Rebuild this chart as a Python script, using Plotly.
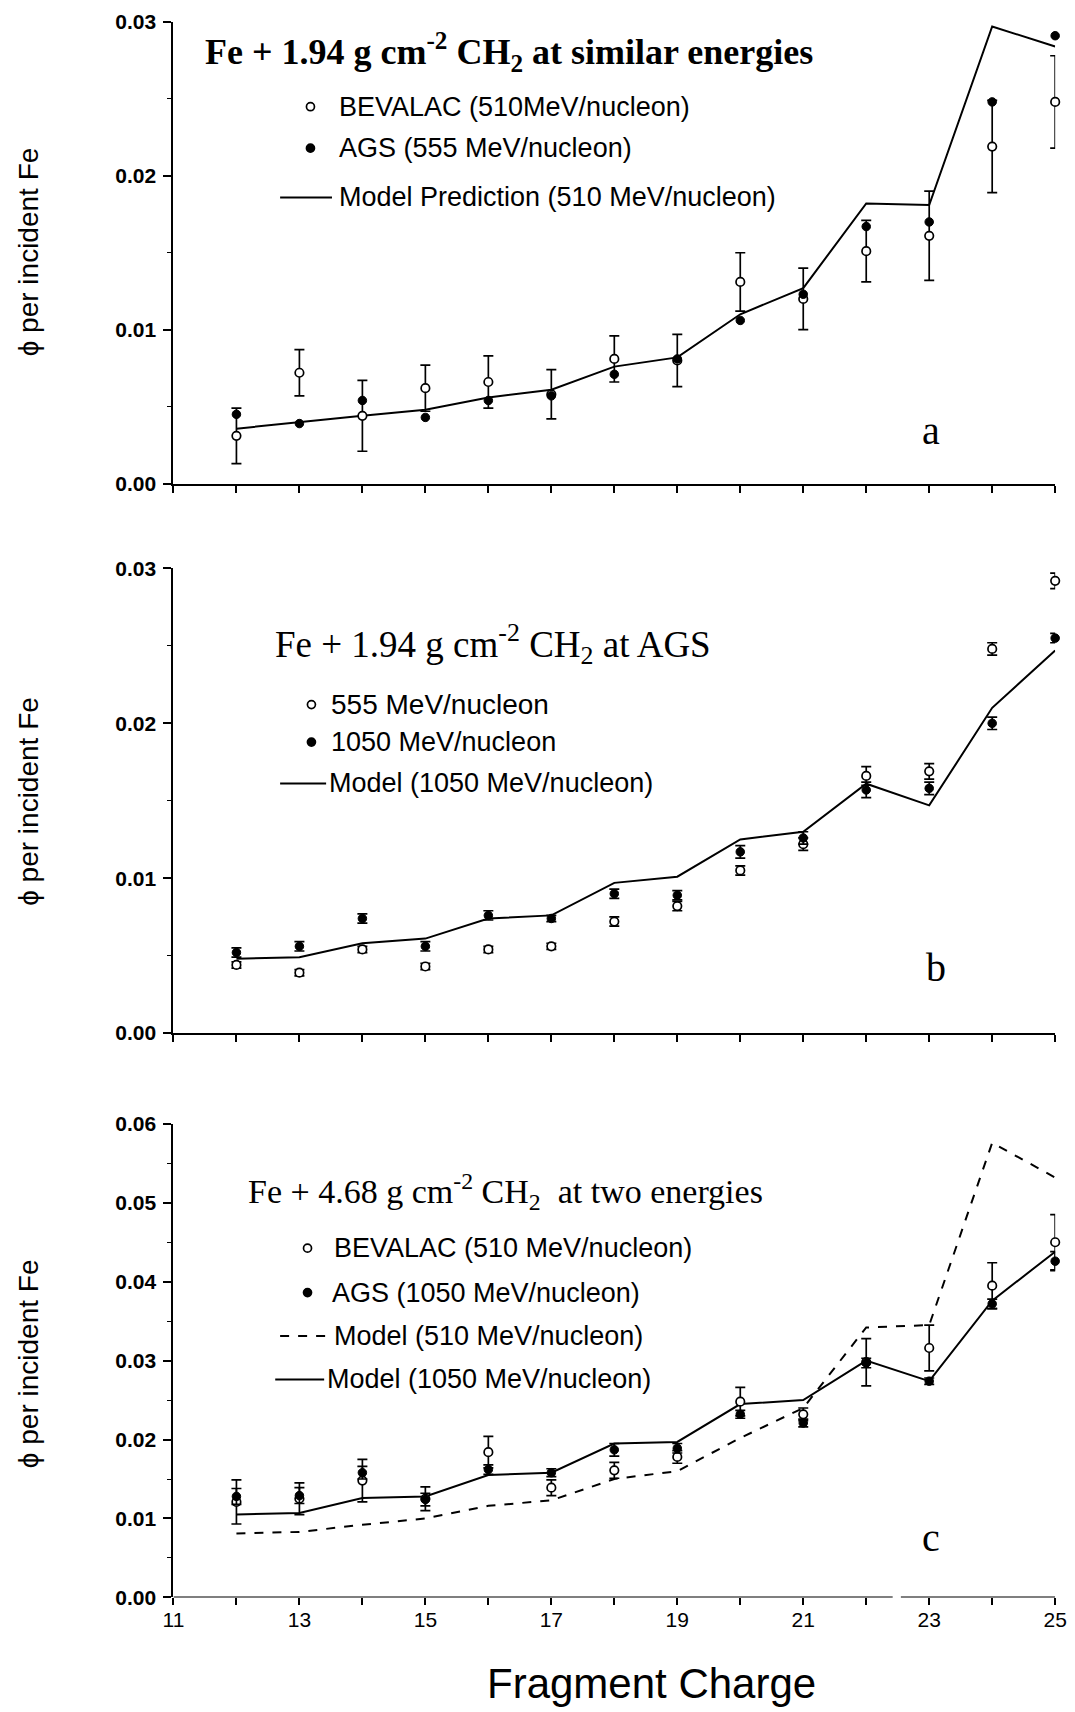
import plotly.graph_objects as go

# ---------------- data ----------------
charge = [12, 13, 14, 15, 16, 17, 18, 19, 20, 21, 22, 23, 24, 25]

# panel a : Fe + 1.94 g cm-2 CH2 at similar energies
a_bevalac = [0.0031, 0.0072, 0.0044, 0.0062, 0.0066, 0.0058, 0.0081, 0.0080, 0.0131, 0.0120, 0.0151, 0.0161, 0.0219, 0.0248]
a_bevalac_err = [0.0018, 0.0015, 0.0023, 0.0015, 0.0017, 0.0016, 0.0015, 0.0017, 0.0019, 0.0020, 0.0020, 0.0029, 0.0030, 0.0030]
a_ags = [0.0045, 0.0039, 0.0054, 0.0043, 0.0054, 0.0057, 0.0071, 0.0081, 0.0106, 0.0123, 0.0167, 0.0170, 0.0248, 0.0291]
a_model = [0.00357, 0.0040, 0.0044, 0.0048, 0.0056, 0.0061, 0.0076, 0.0082, 0.0110, 0.0127, 0.0182, 0.0181, 0.0297, 0.0284]

# panel b : Fe + 1.94 g cm-2 CH2 at AGS
b_555 = [0.0044, 0.0039, 0.0054, 0.0043, 0.0054, 0.0056, 0.0072, 0.0082, 0.0105, 0.0122, 0.0166, 0.0169, 0.0248, 0.0292]
b_555_err = [0.0002, 0.0002, 0.0002, 0.0002, 0.0002, 0.0002, 0.0003, 0.0003, 0.0003, 0.0004, 0.0006, 0.0005, 0.0004, 0.0005]
b_1050 = [0.0052, 0.0056, 0.0074, 0.0056, 0.0076, 0.0074, 0.0090, 0.0089, 0.0117, 0.0126, 0.0157, 0.0158, 0.0200, 0.0255]
b_1050_err = [0.0003, 0.0003, 0.0003, 0.0003, 0.0003, 0.0002, 0.0003, 0.0003, 0.0004, 0.0004, 0.0005, 0.0004, 0.0004, 0.0003]
b_model = [0.0048, 0.0049, 0.0058, 0.0061, 0.0074, 0.0076, 0.0097, 0.0101, 0.0125, 0.0130, 0.0161, 0.0147, 0.0210, 0.0247]

# panel c : Fe + 4.68 g cm-2 CH2 at two energies
c_bevalac = [0.0121, 0.0125, 0.0148, 0.0125, 0.0184, 0.0139, 0.0161, 0.0178, 0.0248, 0.0232, 0.0298, 0.0316, 0.0395, 0.0450]
c_bevalac_err = [0.0028, 0.0020, 0.0027, 0.0015, 0.0020, 0.0010, 0.0010, 0.0008, 0.0018, 0.0008, 0.0030, 0.0029, 0.0029, 0.0035]
c_ags = [0.0128, 0.0129, 0.0158, 0.0124, 0.0162, 0.0158, 0.0187, 0.0189, 0.0232, 0.0221, 0.0297, 0.0274, 0.0372, 0.0426]
c_ags_err = [0.0010, 0.0010, 0.0008, 0.0008, 0.0006, 0.0005, 0.0008, 0.0006, 0.0005, 0.0005, 0.0006, 0.0004, 0.0006, 0.0012]
c_model_510 = [0.0081, 0.0083, 0.0092, 0.0100, 0.0116, 0.0123, 0.0150, 0.0160, 0.0202, 0.0240, 0.0342, 0.0345, 0.0576, 0.0532]
c_model_1050 = [0.0105, 0.0107, 0.0126, 0.0128, 0.0155, 0.0158, 0.0195, 0.0197, 0.0245, 0.0250, 0.0300, 0.0274, 0.0376, 0.0438]

x_major = [11, 13, 15, 17, 19, 21, 23, 25]
x_minor = [12, 14, 16, 18, 20, 22, 24]
ya_ticks = [0.0, 0.01, 0.02, 0.03]
yc_ticks = [0.0, 0.01, 0.02, 0.03, 0.04, 0.05, 0.06]
minor_a = [0.005, 0.015, 0.025]
minor_c = [0.005, 0.015, 0.025, 0.035, 0.045, 0.055]

# ---------------- layout helpers (pixel -> paper) ----------------
W, H = 1075, 1712


def px(x):
    return x / W


def py(y):
    return 1 - y / H


SANS = "Liberation Sans, Arial, sans-serif"
SERIF = "Liberation Serif, Times New Roman, serif"
LEG = 27

fig = go.Figure()


def open_pts(y, err, xa, ya):
    fig.add_trace(go.Scatter(
        x=charge, y=y, mode="markers", xaxis=xa, yaxis=ya, cliponaxis=False,
        marker=dict(symbol="circle", size=8.5, color="white", line=dict(color="black", width=1.7)),
        error_y=dict(type="data", array=err, color="black", thickness=1.7, width=5),
        showlegend=False))


def filled_pts(y, err, xa, ya):
    fig.add_trace(go.Scatter(
        x=charge, y=y, mode="markers", xaxis=xa, yaxis=ya, cliponaxis=False,
        marker=dict(symbol="circle", size=8.5, color="black", line=dict(color="black", width=1)),
        error_y=dict(type="data", array=err, color="black", thickness=1.7, width=5) if err else None,
        showlegend=False))


def model_line(y, xa, ya, dash="solid"):
    fig.add_trace(go.Scatter(
        x=charge, y=y, mode="lines", xaxis=xa, yaxis=ya, cliponaxis=False,
        line=dict(color="black", width=2, dash=dash), showlegend=False))


# panel a
model_line(a_model, "x", "y")
open_pts(a_bevalac, a_bevalac_err, "x", "y")
filled_pts(a_ags, None, "x", "y")
# panel b
model_line(b_model, "x2", "y2")
open_pts(b_555, b_555_err, "x2", "y2")
filled_pts(b_1050, b_1050_err, "x2", "y2")
# panel c
model_line(c_model_510, "x3", "y3", dash="dash")
model_line(c_model_1050, "x3", "y3")
open_pts(c_bevalac, c_bevalac_err, "x3", "y3")
filled_pts(c_ags, c_ags_err, "x3", "y3")

xdom = [px(166), px(1067)]
dom_a = [py(478), py(10)]
dom_b = [py(1035), py(564)]
dom_c = [py(1607), py(1127)]

xcommon = dict(range=[11, 25], tickmode="array", tickvals=x_major,
               ticktext=[str(v) for v in x_major], ticks="outside",
               ticklen=7, tickwidth=1.5, tickcolor="black", showgrid=False, zeroline=False,
               linecolor="black", linewidth=2, domain=xdom, ticklabeloverflow="allow",
               minor=dict(tickmode="array", tickvals=x_minor, ticks="outside",
                          ticklen=7, tickwidth=1.5, tickcolor="black", showgrid=False),
               tickfont=dict(family=SANS, size=21, color="black"))


def ycommon(rng, ticks, minor_vals, dom):
    return dict(range=rng, tickmode="array", tickvals=ticks,
                ticktext=["%.2f" % v for v in ticks], ticks="outside", ticklen=8,
                tickwidth=1.5, tickcolor="black", showgrid=False, zeroline=False,
                showline=True, linecolor="black", linewidth=2, domain=dom,
                ticklabelstandoff=3, ticklabeloverflow="allow",
                minor=dict(tickmode="array", tickvals=minor_vals, ticks="outside",
                           ticklen=4, tickwidth=1.2, tickcolor="black", showgrid=False),
                tickfont=dict(family=SANS, size=21, color="black", weight="bold"))


fig.update_layout(
    width=W, height=H, margin=dict(l=0, r=0, t=0, b=0),
    paper_bgcolor="white", plot_bgcolor="white", showlegend=False,
    xaxis=dict(xcommon, anchor="y", showline=True, showticklabels=False),
    xaxis2=dict(xcommon, anchor="y2", showline=True, showticklabels=False),
    xaxis3=dict(xcommon, anchor="y3", showline=False, showticklabels=True,
                ticklabelstandoff=-4),
    yaxis=dict(ycommon([0, 0.03], ya_ticks, minor_a, dom_a), anchor="x"),
    yaxis2=dict(ycommon([0, 0.03], ya_ticks, minor_a, dom_b), anchor="x2"),
    yaxis3=dict(ycommon([0, 0.06], yc_ticks, minor_c, dom_c), anchor="x3"),
)

shapes = []
# broken x axis line of panel c
shapes.append(dict(type="line", xref="x3", yref="y3", x0=11, x1=22.42, y0=0, y1=0,
                   line=dict(color="black", width=2)))
shapes.append(dict(type="line", xref="x3", yref="y3", x0=22.55, x1=25, y0=0, y1=0,
                   line=dict(color="black", width=2)))

annotations = []


def text(x, y, s, size, family=SANS, xanchor="left", weight="normal", angle=0):
    annotations.append(dict(x=px(x), y=py(y), xref="paper", yref="paper", text=s,
                            showarrow=False, xanchor=xanchor, yanchor="middle",
                            textangle=angle,
                            font=dict(family=family, size=size, color="black", weight=weight)))


def legend_marker(x, y, filled):
    shapes.append(dict(type="circle", xref="paper", yref="paper",
                       xsizemode="pixel", ysizemode="pixel",
                       xanchor=px(x), yanchor=py(y), x0=-4, x1=4, y0=-4, y1=4,
                       fillcolor="black" if filled else "white",
                       line=dict(color="black", width=1.7)))


def legend_line(x0, x1, y, dash="solid"):
    shapes.append(dict(type="line", xref="paper", yref="paper",
                       x0=px(x0), x1=px(x1), y0=py(y), y1=py(y),
                       line=dict(color="black", width=2, dash=dash)))


# titles
text(196, 41, "Fe + 1.94 g cm<sup>-2</sup> CH<sub>2</sub> at similar energies", 36, SERIF, weight="bold")
text(268, 641, "Fe + 1.94 g cm<sup>-2</sup> CH<sub>2</sub> at AGS", 37, SERIF)
text(240, 1196, "Fe + 4.68 g cm<sup>-2</sup> CH<sub>2</sub>  at two energies", 34, SERIF)

# legend a
legend_marker(306, 96, False)
text(333, 96, "BEVALAC (510MeV/nucleon)", LEG)
legend_marker(306, 138, True)
text(333, 138, "AGS (555 MeV/nucleon)", LEG)
legend_line(275, 328, 188)
text(333, 188, "Model Prediction (510 MeV/nucleon)", LEG)

# legend b
legend_marker(307, 702, False)
text(325, 702, "555 MeV/nucleon", 28)
legend_marker(307, 740, True)
text(325, 740, "1050 MeV/nucleon", LEG)
legend_line(275, 322, 782)
text(323, 782, "Model (1050 MeV/nucleon)", LEG)

# legend c
legend_marker(303, 1253, False)
text(328, 1253, "BEVALAC (510 MeV/nucleon)", LEG)
legend_marker(303, 1298, True)
text(326, 1298, "AGS (1050 MeV/nucleon)", LEG)
legend_line(275, 323, 1342, dash="dash")
text(328, 1342, "Model (510 MeV/nucleon)", LEG)
legend_line(270, 320, 1386)
text(321, 1386, "Model (1050 MeV/nucleon)", LEG)

# panel letters
text(940, 424, "a", 40, SERIF, xanchor="center")
text(945, 969, "b", 40, SERIF, xanchor="center")
text(940, 1546, "c", 40, SERIF, xanchor="center")

# axis titles
for yc in (243, 800, 1370):
    text(18, yc, "ϕ per incident Fe", 28, SANS, xanchor="center", angle=-90)
text(655, 1694, "Fragment Charge", 42, SANS, xanchor="center")

fig.update_layout(shapes=shapes, annotations=annotations)

fig.write_html("out.html", config={"displayModeBar": False},
               post_script="document.body.style.margin='0px';")
